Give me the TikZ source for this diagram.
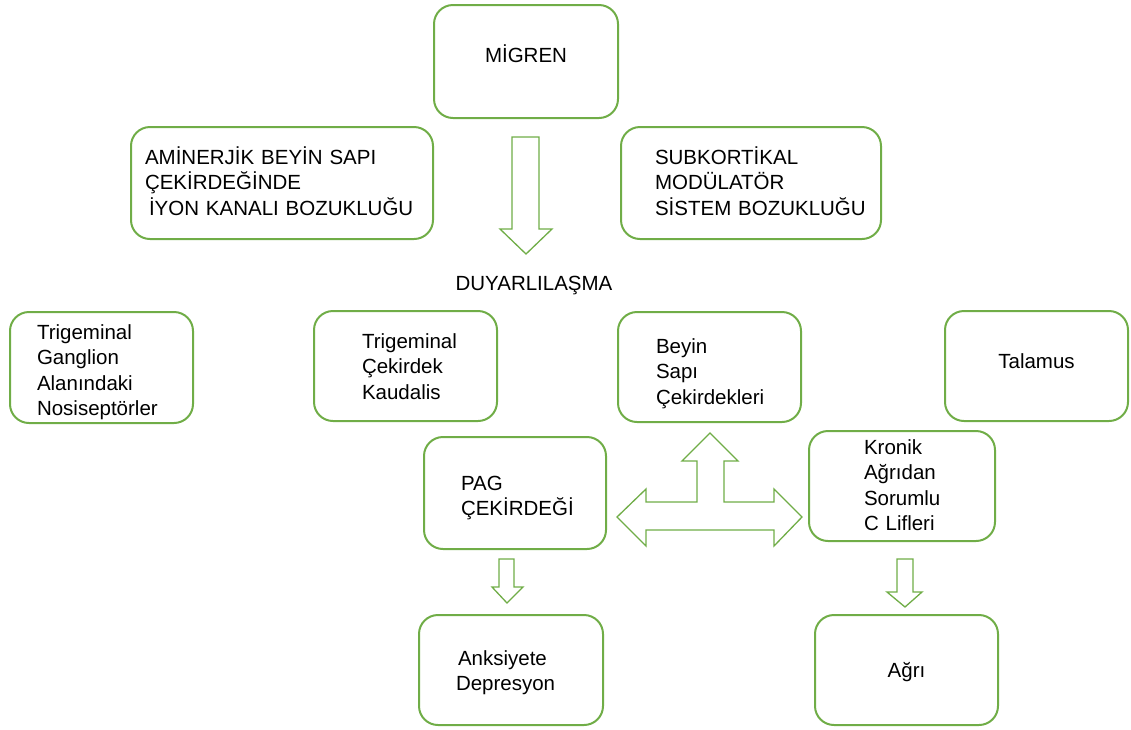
\documentclass[tikz,border=0pt]{standalone}
\usepackage{fontspec}
\setmainfont{Liberation Sans}
\usepackage{xcolor}
\usepackage{tikz}
\usetikzlibrary{positioning}

\definecolor{boxgreen}{RGB}{112,173,71}

\begin{document}
\begin{tikzpicture}[
    x=1pt, y=-1pt,
    box/.style={
        rectangle,
        rounded corners=19pt,
        draw=boxgreen,
        line width=2pt,
        align=left,
        inner xsep=0pt,
        inner ysep=0pt,
        font=\fontsize{20.5}{25.5}\selectfont
    },
    cbox/.style={
        box,
        align=center
    },
    pad/.style={execute at begin node={\leftskip=#1\relax}},
    base/.style 2 args={text height=#1, text depth=#2},
    blockarrow/.style={draw=boxgreen, line width=1.3pt, line join=miter, fill=white}
]
\useasboundingbox (0,0) rectangle (1131,729);

% top row
\node[cbox, text width=184pt, base={57pt}{56pt}] (migren) at (526,61.5) {M\.{I}GREN};
\node[box, text width=302pt, base={37pt}{75pt}, pad=14pt] (aminerjik) at (282,183)
{AM\.{I}NERJ\.{I}K BEY\.{I}N SAPI\\\c{C}EK\.{I}RDE\u{G}\.{I}NDE\\\hspace*{4pt}\.{I}YON KANALI BOZUKLU\u{G}U};
\node[box, text width=260pt, base={37pt}{75pt}, pad=34pt] (subkortikal) at (751,183)
{SUBKORT\.{I}KAL\\MOD\"{U}LAT\"{O}R\\S\.{I}STEM BOZUKLU\u{G}U};

\node[font=\fontsize{20.5}{25.5}\selectfont, inner sep=0pt, anchor=base] (duyar) at (534,290) {DUYARLILA\c{S}MA};

% middle row
\node[box, text width=183pt, base={27pt}{84pt}, pad=27pt] (ganglion) at (101.5,367.5)
{Trigeminal\\Ganglion\\Alan\i ndaki\\Nosisept\"{o}rler};
\node[box, text width=183pt, base={37pt}{73pt}, pad=48pt] (kaudalis) at (405.5,366)
{Trigeminal\\\c{C}ekirdek\\Kaudalis};
\node[box, text width=183pt, base={41pt}{69pt}, pad=38pt] (beyin) at (709.5,367)
{Beyin\\Sap\i\\\c{C}ekirdekleri};
\node[cbox, text width=183pt, base={57pt}{53pt}] (talamus) at (1036.5,366) {Talamus};

\node[box, text width=182pt, base={53pt}{59pt}, pad=37pt] (pag) at (515,493)
{PAG\\\c{C}EK\.{I}RDE\u{G}\.{I}};
\node[box, text width=186pt, base={23pt}{87pt}, pad=55pt] (kronik) at (902,486)
{Kronik\\A\u{g}r\i dan\\Sorumlu\\C Lifleri};

% bottom row
\node[box, text width=184pt, base={50pt}{60pt}, pad=37pt] (anksiyete) at (511,670)
{\hspace*{2pt}Anksiyete\\Depresyon};
\node[cbox, text width=183pt, base={62pt}{48pt}] (agri) at (906.5,670) {A\u{g}r\i};

% block arrows
\draw[blockarrow] (512,137) -- (539,137) -- (539,229) -- (552,229) -- (526,254)
    -- (500,229) -- (512,229) -- cycle;
\draw[blockarrow] (710,433) -- (738,461) -- (724,461) -- (724,502) -- (774,502)
    -- (774,489) -- (802,517) -- (774,546) -- (774,530) -- (646,530) -- (646,546)
    -- (617,517) -- (646,489) -- (646,502) -- (697,502) -- (697,461) -- (682,461) -- cycle;
\draw[blockarrow] (499,559) -- (514,559) -- (514,587) -- (523,587) -- (507,603)
    -- (492,587) -- (499,587) -- cycle;
\draw[blockarrow] (897,559) -- (913,559) -- (913,592) -- (922,592) -- (905,607)
    -- (887,592) -- (897,592) -- cycle;

\end{tikzpicture}
\end{document}
